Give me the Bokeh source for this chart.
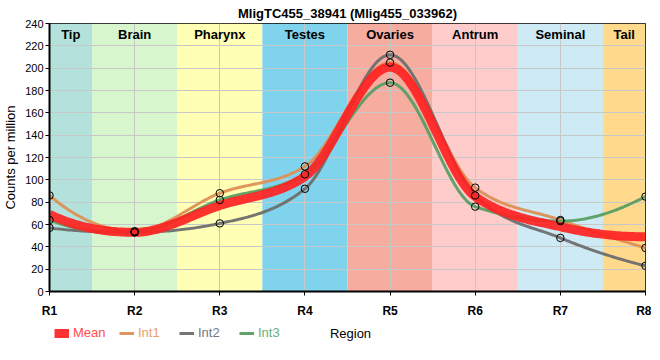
import numpy as np
from bokeh.plotting import figure
from bokeh.layouts import column
from bokeh.models import Range1d, FixedTicker, Legend, LegendItem, ColumnDataSource, Label
from bokeh.core.properties import value
from bokeh.embed import file_html
from bokeh.resources import INLINE

# ---------------- data ----------------
regions = ["R1", "R2", "R3", "R4", "R5", "R6", "R7", "R8"]
x_pos = [1, 2, 3, 4, 5, 6, 7, 8]
int1 = [86, 54, 88, 112, 205, 93, 64, 39]
int2 = [57, 53, 61, 92, 212, 86, 48, 23]
int3 = [64, 53, 82, 105, 187, 76, 63, 85]
mean = [69, 53, 77, 103, 201, 85, 58, 49]

band_names = ["Tip", "Brain", "Pharynx", "Testes", "Ovaries", "Antrum", "Seminal", "Tail"]
band_colors = ["#b3e2dc", "#d8f6ce", "#ffffb5", "#7fd3ec", "#f6ada0", "#ffcccc", "#cdeaf5", "#ffd98c"]

y_ticks = [0, 20, 40, 60, 80, 100, 120, 140, 160, 180, 200, 220, 240]

FONT = "Liberation Sans"


def monotone_curve(xs, ys, n=40):
    """Monotone cubic path through the data points (shape-preserving)."""
    xs = np.asarray(xs, float)
    ys = np.asarray(ys, float)
    h = np.diff(xs)
    s = np.diff(ys) / h
    m = len(xs)
    t = np.zeros(m)
    for i in range(1, m - 1):
        p = (s[i - 1] * h[i] + s[i] * h[i - 1]) / (h[i - 1] + h[i])
        t[i] = (np.sign(s[i - 1]) + np.sign(s[i])) * min(abs(s[i - 1]), abs(s[i]), 0.5 * abs(p))

    def end_slope(s0, s1):
        d = (3 * s0 - s1) / 2
        if np.sign(d) != np.sign(s0):
            return 0.0
        if np.sign(s0) != np.sign(s1) and abs(d) > 3 * abs(s0):
            return 3 * s0
        return d

    t[0] = end_slope(s[0], s[1])
    t[-1] = end_slope(s[-1], s[-2])
    out_x, out_y = [], []
    for i in range(m - 1):
        u = np.linspace(0, 1, n, endpoint=(i == m - 2))
        h00 = 2 * u**3 - 3 * u**2 + 1
        h10 = u**3 - 2 * u**2 + u
        h01 = -2 * u**3 + 3 * u**2
        h11 = u**3 - u**2
        yy = h00 * ys[i] + h10 * h[i] * t[i] + h01 * ys[i + 1] + h11 * h[i] * t[i + 1]
        out_x.extend(xs[i] + u * h[i])
        out_y.extend(yy)
    return out_x, out_y


p = figure(
    frame_width=596, frame_height=268,
    x_range=Range1d(1, 8), y_range=Range1d(0, 240),
    output_backend="svg", toolbar_location=None,
    min_border_left=42, min_border_right=6, min_border_top=23, min_border_bottom=27,
    title="MligTC455_38941 (Mlig455_033962)",
)
p.background_fill_color = "white"
p.border_fill_color = "white"
p.outline_line_color = "black"
p.outline_line_width = 1
p.outline_line_alpha = 1

p.title.align = "center"
p.title.text_font = FONT
p.title.text_font_size = "13px"
p.title.text_font_style = "bold"
p.title.text_color = "black"
p.title.standoff = 5
p.title.offset = -17

# region bands
lefts = [max(x_pos[0], x - 0.5) for x in x_pos]
rights = [min(x_pos[-1], x + 0.5) for x in x_pos]
band_src = ColumnDataSource(dict(
    left=lefts, right=rights,
    bottom=[y_ticks[0]] * len(x_pos), top=[y_ticks[-1]] * len(x_pos),
    color=band_colors, name=band_names,
    cx=[(a + b) / 2 for a, b in zip(lefts, rights)],
    ty=[230] * len(x_pos),
))
p.quad(left="left", right="right", bottom="bottom", top="top", fill_color="color",
       line_color=None, source=band_src, level="image")
p.text(x="cx", y="ty", text="name", source=band_src, text_align="center",
       text_baseline="middle", text_font=value(FONT), text_font_size="13px",
       text_font_style="bold", text_color="black")

# grid
p.xgrid.ticker = FixedTicker(ticks=x_pos)
p.ygrid.ticker = FixedTicker(ticks=y_ticks)
p.grid.grid_line_color = "#c8c8c8"
p.grid.grid_line_width = 1

# series
series = [
    ("Int1", int1, "#dd9055"),
    ("Int2", int2, "#6e6e6e"),
    ("Int3", int3, "#5a9e64"),
]
styles = {name: dict(line_color=col, line_width=3, line_alpha=0.95) for name, _, col in series}
styles["Mean"] = dict(line_color="#ff2222", line_width=9, line_alpha=0.92)

for name, ys, col in series:
    cx, cy = monotone_curve(x_pos, ys)
    p.line(cx, cy, **styles[name])

mx, my = monotone_curve(x_pos, mean)
p.line(mx, my, **styles["Mean"])

for name, ys, col in series:
    p.scatter(x_pos, ys, size=7.5, marker="circle", fill_color=None,
              line_color="black", line_width=1)

# axes
p.xaxis.ticker = FixedTicker(ticks=x_pos)
p.xaxis.major_label_overrides = {x: r for x, r in zip(x_pos, regions)}
p.yaxis.ticker = FixedTicker(ticks=y_ticks)
for ax in (p.xaxis[0], p.yaxis[0]):
    ax.axis_line_color = "black"
    ax.axis_line_width = 2
    ax.major_tick_line_color = "black"
    ax.major_tick_line_width = 1
    ax.major_tick_out = 4
    ax.major_tick_in = 0
    ax.minor_tick_line_color = None
    ax.major_label_text_font = FONT
    ax.major_label_text_color = "black"
    ax.axis_label_text_font = FONT
    ax.axis_label_text_font_style = "normal"
    ax.axis_label_text_color = "black"
    ax.axis_label_text_font_size = "13px"
p.xaxis.major_label_text_font_size = "12px"
p.xaxis.major_label_text_font_style = "bold"
p.xaxis.major_label_standoff = 8
p.yaxis.major_label_text_font_size = "11px"
p.yaxis.major_label_standoff = 2
p.yaxis.axis_label = "Counts per million"
p.yaxis.axis_label_standoff = 4

# ---------------- legend strip (second figure, frame aligned with the chart) ----------------
LW, LH = 644, 26
q = figure(width=LW, height=LH, x_range=Range1d(0, LW), y_range=Range1d(0, LH),
           output_backend="svg", toolbar_location=None,
           min_border_left=0, min_border_right=0, min_border_top=0, min_border_bottom=0)
q.axis.visible = False
q.grid.visible = False
q.outline_line_color = None
q.background_fill_color = "white"
q.border_fill_color = "white"

legend_specs = [
    ("Mean", "#ff4d4d", 5),
    ("Int1", "#e9a066", 70),
    ("Int2", "#777780", 130),
    ("Int3", "#6aaf78", 190),
]
for name, tcol, lx in legend_specs:
    dummy = q.line(x=[-20, -10], y=[-20, -20], **styles[name])
    leg = Legend(
        items=[LegendItem(label=name, renderers=[dummy])],
        location=(lx, 6), orientation="horizontal",
        border_line_color=None, background_fill_alpha=0,
        padding=0, margin=0, spacing=0,
        glyph_width=15, glyph_height=10, label_standoff=4,
        label_height=14, label_text_font=FONT, label_text_font_size="13px",
        label_text_color=tcol, label_text_baseline="middle",
    )
    q.add_layout(leg, "center")

q.add_layout(Label(x=301, y=13, x_units="screen", y_units="screen", text="Region",
                   text_align="center", text_baseline="middle", text_font=FONT,
                   text_font_size="13px", text_color="black"))

layout = column(p, q, spacing=0)
open("out.html", "w").write(file_html(layout, INLINE))
